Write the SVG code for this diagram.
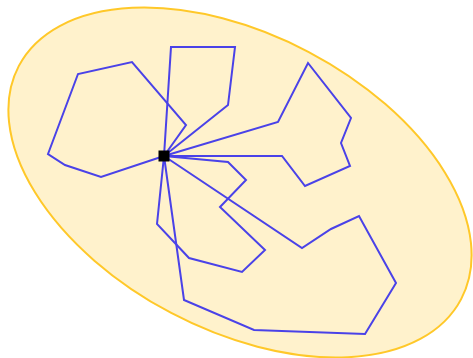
<svg xmlns="http://www.w3.org/2000/svg" width="473" height="358" viewBox="0 0 473 358">
<style>
.blob{fill:#FFF2CC;stroke:#FFC829;stroke-width:2}
.loop{fill:none;stroke:#4A42E8;stroke-width:2;stroke-linejoin:miter}
</style>
<g id="region">
<ellipse class="blob" cx="240" cy="182.5" rx="250" ry="147.5" transform="rotate(27.8 240 182.5)"/>
</g>
<g id="connectors">
<polyline class="loop" points="164,156 101,177 65,165 48,154 78,74 132,62 186,125 164,156"/>
<polyline class="loop" points="164,156 171,47 235,47 228,105 164,156"/>
<polyline class="loop" points="164,156 278,122 308,63 351,118 341,143 350,166 305,186 282,156 164,156"/>
<polyline class="loop" points="164,156 228,162 246,180 220,207 265,250 242,272 189,258 157,224 164,156"/>
<polyline class="loop" points="164,156 302,248 331,229 359,216 396,283 365,334 254,330 184,300 164,156"/>
</g>
<g id="hub">
<rect x="158.5" y="150.5" width="11" height="11" fill="#000"/>
</g>
</svg>
